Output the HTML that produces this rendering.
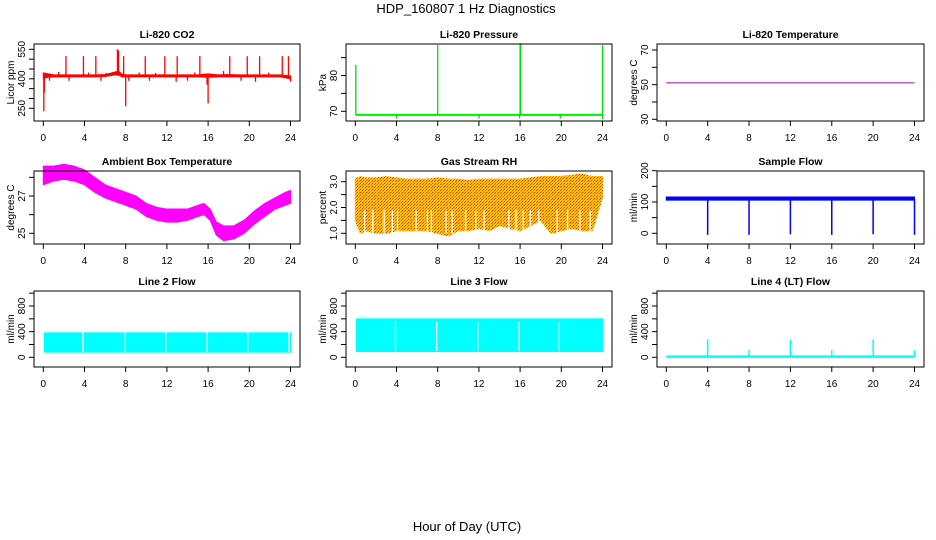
<!DOCTYPE html>
<html><head><meta charset="utf-8">
<style>
html,body{margin:0;padding:0;background:#fff;}
svg{display:block;font-family:"Liberation Sans",sans-serif;}
</style></head>
<body>
<svg id="fig" width="936" height="540" viewBox="0 0 936 540" xmlns="http://www.w3.org/2000/svg">
<defs>
<pattern id="rhpat" width="3" height="3" patternUnits="userSpaceOnUse">
<rect width="3" height="3" fill="#ffd000"/>
<rect x="0" y="0" width="1" height="1" fill="#ff2000"/>
<rect x="2" y="1" width="1" height="1" fill="#ff4000"/>
<rect x="1" y="2" width="1" height="1" fill="#ff8800"/>
</pattern>
</defs>
<text x="466" y="13" font-size="13" text-anchor="middle">HDP_160807  1 Hz Diagnostics</text>
<text x="467" y="531" font-size="13" text-anchor="middle">Hour of Day (UTC)</text>
</svg>
<script>
// ---- data arrays ----
const xTicks = [0,4,8,12,16,20,24];
// CO2
const co2T  = [0,0.2,0.5,1,2,3,4,5,6,6.5,7,7.3,7.6,8,9,10,11,12,13,14,15,16,17,18,19,20,21,22,23,24];
const co2Lo = [400,405,408,410,410,410,410,410,412,416,420,424,410,410,410,410,410,410,410,410,410,408,410,410,410,410,410,410,410,400];
const co2Hi = [430,428,425,420,420,420,420,420,422,428,435,440,425,420,420,420,420,420,420,420,420,425,420,422,420,420,420,420,420,415];
const co2SpikeT = [0.05,0.1,2.2,3.9,5.1,7.2,7.3,7.8,8.0,9.9,11.8,13.0,15.2,15.9,16.0,18.1,19.8,21.0,23.2,23.8,0.6,2.5,5.6,8.3,10.3,12.9,14.0,19.2,20.6,24.0,1.5,4.4,6.1,9.3,10.9,14.7,17.5,21.9];
const co2SpikeV = [235,330,515,515,515,550,545,515,260,515,515,515,515,370,275,515,515,515,515,515,390,390,390,390,390,385,390,390,385,385,435,432,430,432,430,432,440,432];
// Pressure
const presT = [0.05,24];
const presV = [69,69];
const presSpikeT = [0.05,8,16,16.05,24,4,12,15.95,19.9,24.02];
const presSpikeV = [83,88.5,89,89,88.5,68,68,68,68,67.8];
// Li-820 temperature
const tempT = [0,24];
const tempV = [51,51];
// Ambient box temperature
const ambT  = [0,1,2,3,4,5,6,7,8,9,10,11,12,13,14,15,15.6,16.2,16.8,17.5,18.5,19.5,20.5,21.5,22.5,23.5,24];
const ambLo = [27.6,27.8,27.9,27.8,27.6,27.2,26.9,26.7,26.5,26.3,25.9,25.7,25.6,25.6,25.7,25.9,26.0,25.7,24.9,24.6,24.7,25.0,25.5,25.9,26.3,26.5,26.6];
const ambHi = [28.6,28.6,28.7,28.6,28.4,28.0,27.6,27.4,27.2,27.0,26.6,26.4,26.3,26.3,26.3,26.5,26.6,26.3,25.6,25.4,25.4,25.7,26.2,26.6,26.9,27.2,27.3];
// Gas stream RH
const rhT  = [0,0.5,1,2,3,4,5,6,7,8,9,10,11,12,13,14,15,16,17,18,19,20,21,22,23,24];
const rhLo = [1.5,1.0,1.1,1.0,1.0,1.1,1.1,1.1,1.1,1.0,0.9,1.1,1.1,1.2,1.1,1.3,1.2,1.1,1.3,1.5,1.0,1.1,1.2,1.1,1.1,2.4];
const rhHi = [3.1,3.2,3.15,3.15,3.2,3.15,3.1,3.1,3.1,3.15,3.1,3.1,3.05,3.1,3.1,3.1,3.1,3.1,3.15,3.2,3.2,3.2,3.25,3.3,3.2,3.2];
const rhGapT = [0.9,1.7,2.8,3.6,4.1,5.9,7.0,7.4,8.8,9.4,10.7,11.7,12.5,14.9,15.6,16.3,17.0,17.8,19.6,20.6,21.8,22.8];
// Sample flow
const sfT  = [0,24];
const sfLo = [106,106];
const sfHi = [116,116];
const sfDipT = [4,8,12,16,20,24];
const sfDipV = [-5,-5,-3,-5,-3,-5];
// Line 2 flow
const l2T  = [0.1,24];
const l2Lo = [80,80];
const l2Hi = [380,380];
const l2GapT = [3.85,7.95,11.9,15.9,19.85,23.85];
// Line 3 flow
const l3T  = [0.1,24];
const l3Lo = [90,90];
const l3Hi = [600,600];
const l3GapT = [3.9,7.9,11.9,15.9,19.8];
// Line 4 flow
const l4T  = [0,24];
const l4V  = [10,10];
const l4SpikeT = [4,8,12,16,20,24];
const l4SpikeV = [280,110,280,110,280,110];

// ---- helpers ----
const NS = "http://www.w3.org/2000/svg";
const svg = document.getElementById('fig');
function mk(tag, attrs, parent){
  const e = document.createElementNS(NS, tag);
  for (const k in attrs) e.setAttribute(k, attrs[k]);
  (parent||svg).appendChild(e);
  return e;
}
const colX = [[34,300],[346,612],[657,924]];
const rowY = [[44,121],[171,244],[291,367]];

function panel(o){
  const [bx0,bx1] = colX[o.col], [by0,by1] = rowY[o.row];
  const g = mk('g', {});
  
  
  const x0 = bx0 + 9.3, x1 = bx1 - 9.5;
  const X = v => x0 + (v/24)*(x1-x0);
  const Y = v => o.yr[1] + (v - o.yr[0]) * (o.yr[3]-o.yr[1])/(o.yr[2]-o.yr[0]);
  const t = mk('text', {x:(bx0+bx1)/2, y:by0-6, 'font-size':10.5, 'font-weight':'bold', 'text-anchor':'middle'}, g);
  t.textContent = o.title;
  
  
  const plot = mk('g', {}, g);
  
  
  o.draw(plot, X, Y);
  const box = mk('rect', {x:bx0, y:by0, width:bx1-bx0, height:by1-by0, fill:'none', stroke:'#000', 'stroke-width':1}, g);
  
  
  xTicks.forEach(v => {
    mk('line', {x1:X(v), x2:X(v), y1:by1, y2:by1+5, stroke:'#000'}, g);
    const l = mk('text', {x:X(v), y:by1+20, 'font-size':10, 'text-anchor':'middle'}, g);
    l.textContent = v;
    
    
  });
  o.yTicks.forEach(v => {
    mk('line', {x1:bx0-5, x2:bx0, y1:Y(v), y2:Y(v), stroke:'#000'}, g);
  });
  o.yLabels.forEach(v => {
    const l = mk('text', {x:0, y:0, 'font-size':10, 'text-anchor':'middle', transform:`translate(${bx0-9},${Y(v)}) rotate(-90)`}, g);
    l.textContent = v;
    
    
  });
  const yl = mk('text', {x:0, y:0, 'font-size':10, 'text-anchor':'middle', transform:`translate(${bx0-20},${(by0+by1)/2}) rotate(-90)`}, g);
  yl.textContent = o.ylab;
  
  
}
function band(p, X, Y, T, lo, hi, fill){
  let d = T.map((t,i)=>`${i?'L':'M'}${X(t)},${Y(hi[i])}`).join('');
  for (let i=T.length-1;i>=0;i--) d += `L${X(T[i])},${Y(lo[i])}`;
  const e = mk('path', {d:d+'Z', fill:fill, stroke:fill, 'stroke-width':1}, p);
  
  
}
function line(p, X, Y, T, V, col, w){
  const e = mk('polyline', {points:T.map((t,i)=>`${X(t)},${Y(V[i])}`).join(' '), fill:'none', stroke:col, 'stroke-width':w}, p);
  
  
}
function spikes(p, X, Y, T, V, base, col, w){
  T.forEach((t,i)=>{
    const e = mk('line', {x1:X(t), x2:X(t), y1:Y(base), y2:Y(V[i]), stroke:col, 'stroke-width':w}, p);
    
    
  });
}
function gaps(p, X, Y, T, lo, hi){
  T.forEach(t=>{
    const e = mk('line', {x1:X(t), x2:X(t), y1:Y(lo), y2:Y(hi), stroke:'#fff', 'stroke-width':1.3}, p);
    
    
  });
}

panel({name:'panel-co2', col:0,row:0,title:'Li-820 CO2', ylab:'Licor ppm', yr:[550,49.3,250,108.3],
  yTicks:[250,300,350,400,450,500,550], yLabels:[250,400,550],
  draw:(p,X,Y)=>{ band(p,X,Y,co2T,co2Lo,co2Hi,'#ff0000'); spikes(p,X,Y,co2SpikeT,co2SpikeV,415,'#ff0000',1.3); }});
panel({name:'panel-pressure', col:1,row:0,title:'Li-820 Pressure', ylab:'kPa', yr:[70,111.3,80,75.5],
  yTicks:[70,75,80,85], yLabels:[70,80],
  draw:(p,X,Y)=>{ line(p,X,Y,presT,presV,'#00ee00',2); spikes(p,X,Y,presSpikeT,presSpikeV,69,'#00dd00',1.3); }});
panel({name:'panel-li820-temp', col:2,row:0,title:'Li-820 Temperature', ylab:'degrees C', yr:[70,50,30,119.3],
  yTicks:[30,40,50,60,70], yLabels:[30,50,70],
  draw:(p,X,Y)=>{ line(p,X,Y,tempT,tempV,'#aa00aa',1); }});
panel({name:'panel-ambient-temp', col:0,row:1,title:'Ambient Box Temperature', ylab:'degrees C', yr:[27,196,25,233.3],
  yTicks:[25,26,27,28], yLabels:[25,27],
  draw:(p,X,Y)=>{ band(p,X,Y,ambT,ambLo,ambHi,'#ff00ff'); }});
panel({name:'panel-rh', col:1,row:1,title:'Gas Stream RH', ylab:'percent', yr:[3,181.7,1,233.3],
  yTicks:[1,1.5,2,2.5,3], yLabels:['1.0','2.0','3.0'],
  draw:(p,X,Y)=>{ band(p,X,Y,rhT,rhLo,rhHi,'url(#rhpat)'); gaps(p,X,Y,rhGapT,1.0,1.9); }});
panel({name:'panel-sample-flow', col:2,row:1,title:'Sample Flow', ylab:'ml/min', yr:[200,170.7,0,233.3],
  yTicks:[0,50,100,150,200], yLabels:[0,100,200],
  draw:(p,X,Y)=>{ band(p,X,Y,sfT,sfLo,sfHi,'#0000ff'); spikes(p,X,Y,sfDipT,sfDipV,110,'#0000ff',1.5); }});
panel({name:'panel-line2-flow', col:0,row:2,title:'Line 2 Flow', ylab:'ml/min', yr:[800,306,0,357.3],
  yTicks:[0,200,400,600,800,1000], yLabels:[0,400,800],
  draw:(p,X,Y)=>{ band(p,X,Y,l2T,l2Lo,l2Hi,'#00ffff'); gaps(p,X,Y,l2GapT,90,390); }});
panel({name:'panel-line3-flow', col:1,row:2,title:'Line 3 Flow', ylab:'ml/min', yr:[800,306,0,357.3],
  yTicks:[0,200,400,600,800,1000], yLabels:[0,400,800],
  draw:(p,X,Y)=>{ band(p,X,Y,l3T,l3Lo,l3Hi,'#00ffff'); gaps(p,X,Y,l3GapT,100,550); }});
panel({name:'panel-line4-flow', col:2,row:2,title:'Line 4 (LT) Flow', ylab:'ml/min', yr:[800,306,0,357.3],
  yTicks:[0,200,400,600,800,1000], yLabels:[0,400,800],
  draw:(p,X,Y)=>{ line(p,X,Y,l4T,l4V,'#00ffff',2.5); spikes(p,X,Y,l4SpikeT,l4SpikeV,10,'#00ffff',1.5); }});
</script>
</body></html>
